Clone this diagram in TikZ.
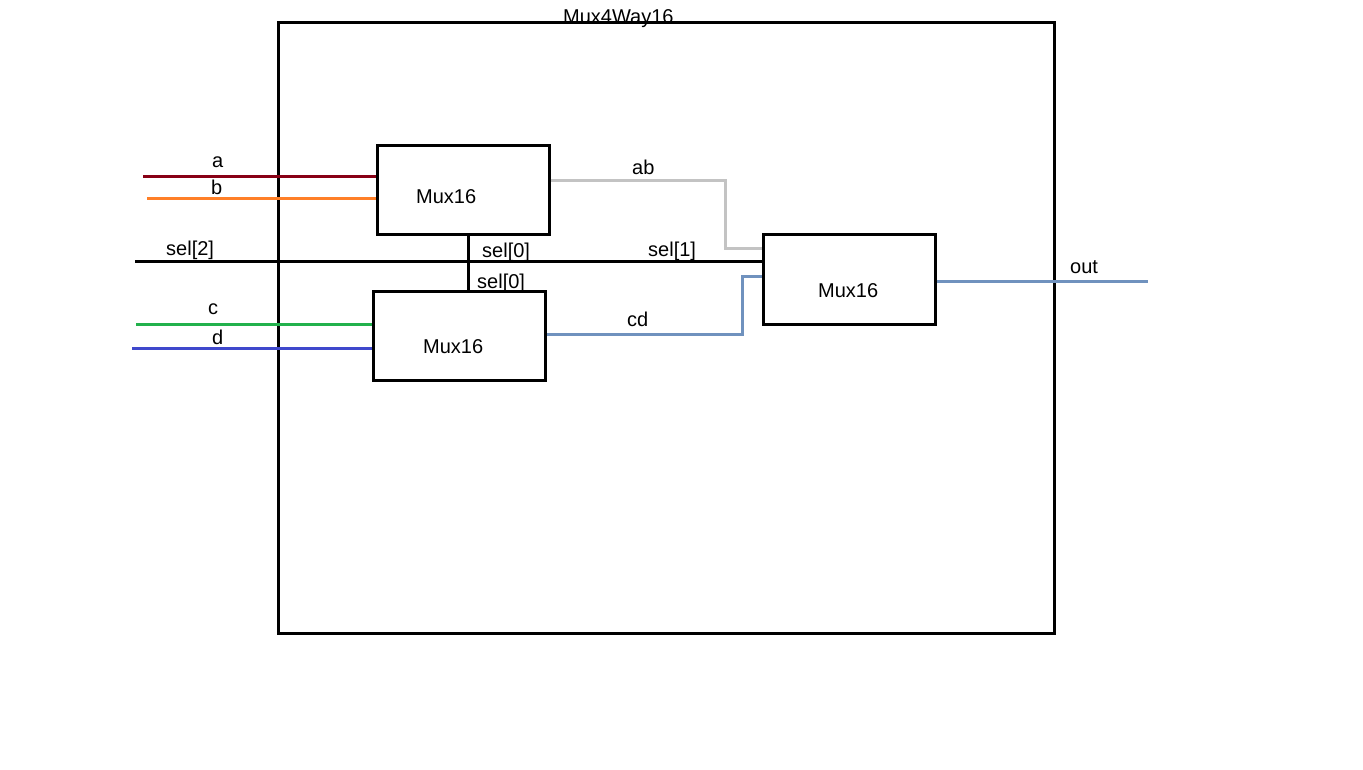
\documentclass[tikz,border=0pt]{standalone}
\usepackage{fontspec}
\setmainfont{Liberation Sans}
\usepackage{tikz}
\definecolor{wireA}{RGB}{136,0,21}
\definecolor{wireB}{RGB}{255,127,39}
\definecolor{wireC}{RGB}{34,177,76}
\definecolor{wireD}{RGB}{63,72,204}
\definecolor{wireAB}{RGB}{195,195,195}
\definecolor{wireCD}{RGB}{112,146,190}
\tikzstyle{chip} = [draw,line width=3pt,minimum width=776pt,minimum height=610pt,inner sep=0pt]
\tikzstyle{mux} = [draw,line width=3pt,minimum width=172pt,minimum height=89pt,inner sep=0pt]
\tikzstyle{wire} = [line width=3pt]
\tikzstyle{lbl} = [inner sep=0pt,anchor=base west]

\begin{document}
\begin{tikzpicture}[x=1pt,y=-1pt]
        \fontsize{20}{24}\selectfont
        \useasboundingbox (0,0) rectangle (1363,770);
        \node[lbl] (title) at (563,24) {Mux4Way16};
        \node[chip] (chip) at (666,328) {};
        \node[mux] (muxab) at (463,190.5) {};
        \node[mux] (muxcd) at (459.5,335.5) {};
        \node[mux] (muxout) at (849,279.5) {};
        \node[lbl] at (416,204) {Mux16};
        \node[lbl] at (423,353) {Mux16};
        \node[lbl] at (818,297) {Mux16};

        \coordinate (a) at (143,177);
        \coordinate (b) at (147,199);
        \coordinate (sel2) at (135,262);
        \coordinate (c) at (136,324);
        \coordinate (d) at (132,348);
        \coordinate (out) at (1148,281);

        \draw[wire, wireA] (a) -- (a -| muxab.west);
        \draw[wire, wireB] (b) -- (b -| muxab.west);
        \draw[wire] (sel2) -- (sel2 -| muxout.west);
        \draw[wire] (muxab.south -| 468,0) -- (muxcd.north -| 468,0);
        \draw[wire, wireC] (c) -- (c -| muxcd.west);
        \draw[wire, wireD] (d) -- (d -| muxcd.west);
        \draw[wire, wireAB] (muxab.east |- 0,181) -| (725,249) -- (muxout.west |- 0,249);
        \draw[wire, wireCD] (muxcd.east |- 0,334) -| (742,276) -- (muxout.west |- 0,276);
        \draw[wire, wireCD] (muxout.east |- out) -- (out);

        \node[lbl] at (212,168) {a};
        \node[lbl] at (211,195) {b};
        \node[lbl] at (166,255) {sel[2]};
        \node[lbl] at (482,258) {sel[0]};
        \node[lbl] at (477,288) {sel[0]};
        \node[lbl] at (208,314) {c};
        \node[lbl] at (212,344) {d};
        \node[lbl] at (632,175) {ab};
        \node[lbl] at (648,256) {sel[1]};
        \node[lbl] at (627,326) {cd};
        \node[lbl] at (1070,273) {out};
\end{tikzpicture}
\end{document}
